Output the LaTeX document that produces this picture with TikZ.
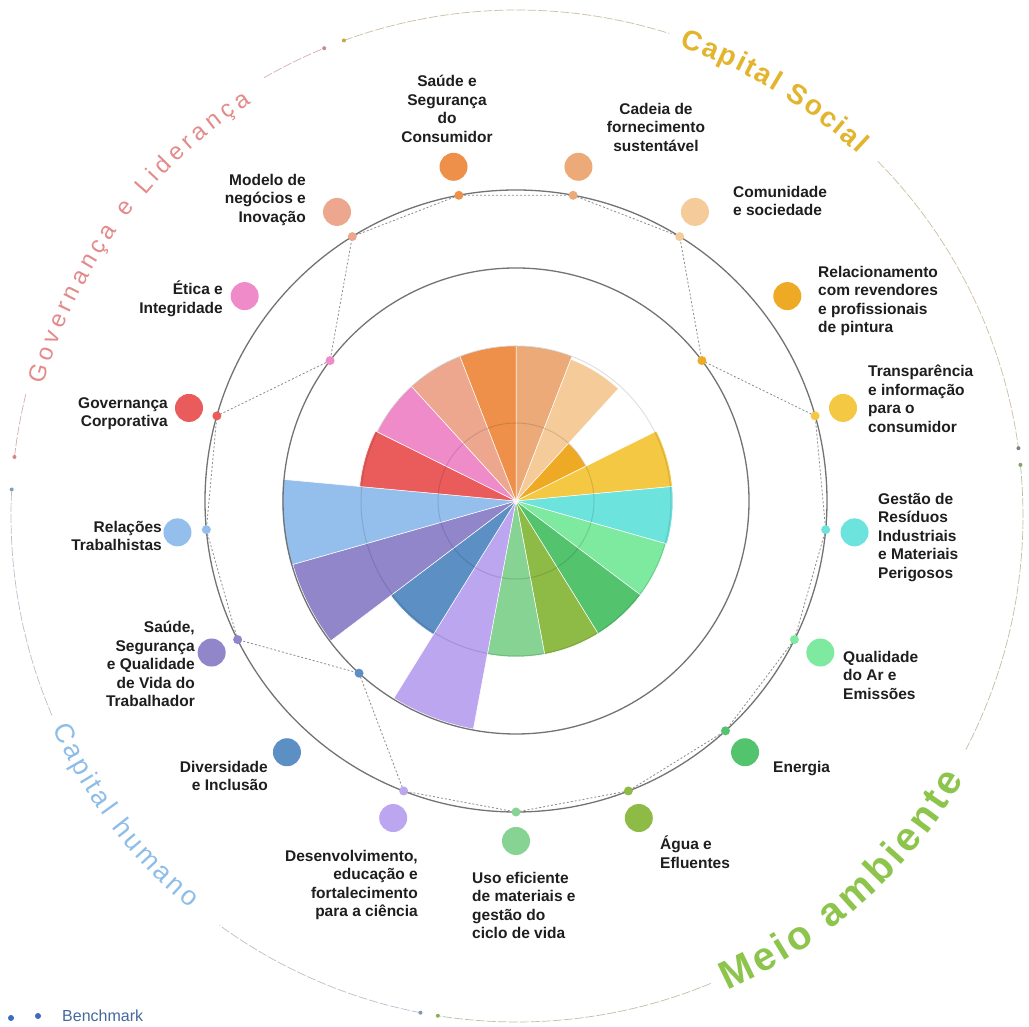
\documentclass[tikz,border=0pt]{standalone}
\usepackage{fontspec}
\setmainfont{Liberation Sans}
\usetikzlibrary{calc}
\definecolor{c0}{HTML}{EBAA78}
\definecolor{c1}{HTML}{F5CB9A}
\definecolor{c2}{HTML}{EEAA24}
\definecolor{c3}{HTML}{F5C843}
\definecolor{c4}{HTML}{6DE3DD}
\definecolor{c5}{HTML}{7DEA9F}
\definecolor{c6}{HTML}{53C36E}
\definecolor{c7}{HTML}{8EBB45}
\definecolor{c8}{HTML}{86D393}
\definecolor{c9}{HTML}{BBA6EF}
\definecolor{c10}{HTML}{5C8FC4}
\definecolor{c11}{HTML}{9086C9}
\definecolor{c12}{HTML}{94BFEC}
\definecolor{c13}{HTML}{EA5C5C}
\definecolor{c14}{HTML}{EE8BC8}
\definecolor{c15}{HTML}{EEA78F}
\definecolor{c16}{HTML}{EF904A}
\definecolor{govc}{HTML}{E48A8A}
\definecolor{socc}{HTML}{E3B52E}
\definecolor{meioc}{HTML}{8DC44B}
\definecolor{humc}{HTML}{8DBDE8}
\definecolor{legc}{HTML}{45699E}
\definecolor{legdot}{HTML}{3A6CC0}
\definecolor{txtc}{HTML}{1E1E1E}
% #1 centre, #2 baseline radius, #3 start angle, #4 direction, #5 font, #6 colour,
% #7 tracking, #8 font size, #9 list char/width(em)
\newcommand\curvetext[9]{%
  \xdef\ctang{#3}%
  \foreach \ctch/\ctwe in {#9}{%
    \pgfmathsetmacro\ctstep{(\ctwe*#8+#7)/#2*57.29578}%
    \pgfmathsetmacro\ctmid{\ctang+(#4)*\ctstep/2}%
    \pgfmathsetmacro\ctrot{\ctmid+(#4)*90}%
    \node[font={#5}, text=#6, anchor=base, inner sep=0pt, rotate=\ctrot] at ($(#1)+(\ctmid:#2)$) {\ctch};
    \pgfmathsetmacro\ctnew{\ctang+(#4)*\ctstep}%
    \xdef\ctang{\ctnew}%
  }%
}
\begin{document}
\begin{tikzpicture}[x=1pt,y=1pt,
  lbl/.style={font=\bfseries\fontsize{15.5}{18.5}\selectfont, text=txtc, inner sep=0pt},
  bigdot/.style={circle, minimum size=28pt, inner sep=0pt},
  smalldot/.style={circle, minimum size=9pt, inner sep=0pt},
  poly/.style={black!45, line width=0.8pt, dash pattern=on 2pt off 2pt},
  ring/.style={black!55, line width=1.3pt},
  grid/.style={black, opacity=0.12, line width=1pt},
  outerarc/.style={line width=0.7pt, dash pattern=on 9pt off 2pt},
  enddot/.style={circle, minimum size=4pt, inner sep=0pt}]
\useasboundingbox (0,0) rectangle (1029,1027);
\fill[white] (0,0) rectangle (1029,1027);
\coordinate (C) at (516,526);
\coordinate (O) at (517,511);

% wedges
\foreach \k/\col/\wr in {0/c0/155, 1/c1/152, 2/c2/78, 3/c3/157, 4/c4/157, 5/c5/156, 6/c6/156, 7/c7/156, 8/c8/156, 9/c9/232, 10/c10/157, 11/c11/232, 12/c12/234, 13/c13/157, 14/c14/155, 15/c15/155, 16/c16/155}{
  \pgfmathsetmacro\pa{90-\k*360/17}
  \pgfmathsetmacro\pb{90-(\k+1)*360/17}
  \fill[\col, draw=white, line width=0.5pt] (C) -- ($(C)+(\pa:\wr)$) arc[start angle=\pa, end angle=\pb, radius=\wr] -- cycle;
}
\draw[grid] (C) circle[radius=78];
\draw[grid] (C) circle[radius=155];
\draw[ring] (C) circle[radius=233];
\draw[ring] (C) circle[radius=311];

% dots on the rings
\foreach \k/\dr in {0/311, 1/311, 2/233, 3/311, 4/311, 5/311, 6/311, 7/311, 8/311, 9/311, 10/233, 11/311, 12/311, 13/311, 14/233, 15/311, 16/311}{
  \pgfmathsetmacro\ph{90-(\k+0.5)*360/17}
  \coordinate (d\k) at ($(C)+(\ph:\dr)$);
  \coordinate (m\k) at ($(C)+(\ph:340)$);
}
\draw[poly] (d0) -- (d1) -- (d2) -- (d3) -- (d4) -- (d5) -- (d6) -- (d7) -- (d8) -- (d9) -- (d10) -- (d11) -- (d12) -- (d13) -- (d14) -- (d15) -- (d16) -- cycle;
\foreach \k in {0,...,16}{
  \node[smalldot, fill=c\k] (s\k) at (d\k) {};
  \node[bigdot, fill=c\k] (b\k) at (m\k) {};
}

% labels
\node[lbl, anchor=north, align=center] (l16) at (447,952) {Saúde e\\Segurança\\do\\Consumidor};
\node[lbl, anchor=north, align=center] (l0) at (656,924) {Cadeia de\\fornecimento\\sustentável};
\node[lbl, anchor=north west, align=left] (l1) at (733,841) {Comunidade\\e sociedade};
\node[lbl, anchor=north west, align=left] (l2) at (818,761) {Relacionamento\\com revendores\\e profissionais\\de pintura};
\node[lbl, anchor=north west, align=left] (l3) at (868,662) {Transparência\\e informação\\para o\\consumidor};
\node[lbl, anchor=north west, align=left] (l4) at (878,534) {Gestão de\\Resíduos\\Industriais\\e Materiais\\Perigosos};
\node[lbl, anchor=north west, align=left] (l5) at (843,376) {Qualidade\\do Ar e\\Emissões};
\node[lbl, anchor=north west, align=left] (l6) at (773,266) {Energia};
\node[lbl, anchor=north west, align=left] (l7) at (660,191) {Água e\\Efluentes};
\node[lbl, anchor=north west, align=left] (l8) at (472,155) {Uso eficiente\\de materiais e\\gestão do\\ciclo de vida};
\node[lbl, anchor=north east, align=right] (l9) at (418,177) {Desenvolvimento,\\educação e\\fortalecimento\\para a ciência};
\node[lbl, anchor=north east, align=right] (l10) at (268,266) {Diversidade\\e Inclusão};
\node[lbl, anchor=north east, align=right] (l11) at (195,406) {Saúde,\\Segurança\\e Qualidade\\de Vida do\\Trabalhador};
\node[lbl, anchor=north east, align=right] (l12) at (162,506) {Relações\\Trabalhistas};
\node[lbl, anchor=north east, align=right] (l13) at (168,630) {Governança\\Corporativa};
\node[lbl, anchor=north east, align=right] (l14) at (223,746) {Ética e\\Integridade};
\node[lbl, anchor=north east, align=right] (l15) at (306,853) {Modelo de\\negócios e\\Inovação};

% outer category arcs
\draw[outerarc, govc!70!gray!70] ($(O)+(173.3:506)$) arc[start angle=173.3, end angle=166, radius=506];
\draw[outerarc, govc!70!gray!70] ($(O)+(120:506)$) arc[start angle=120, end angle=112.4, radius=506];
\draw[outerarc, socc!40!gray!60] ($(O)+(110:506)$) arc[start angle=110, end angle=72.5, radius=506];
\draw[outerarc, socc!40!gray!60] ($(O)+(44.5:506)$) arc[start angle=44.5, end angle=7.7, radius=506];
\draw[outerarc, meioc!40!gray!60] ($(O)+(5.8:506)$) arc[start angle=5.8, end angle=-27.5, radius=506];
\draw[outerarc, meioc!40!gray!60] ($(O)+(-67.5:506)$) arc[start angle=-67.5, end angle=-99, radius=506];
\draw[outerarc, humc!40!gray!60] ($(O)+(-101:506)$) arc[start angle=-101, end angle=-126, radius=506];
\draw[outerarc, humc!40!gray!60] ($(O)+(-156.8:506)$) arc[start angle=-156.8, end angle=-183, radius=506];
\node[enddot, fill=govc!80!gray] (e1) at ($(O)+(173.3:506)$) {};
\node[enddot, fill=govc!80!gray] (e2) at ($(O)+(112.4:506)$) {};
\node[enddot, fill=socc!70!gray] (e3) at ($(O)+(110:506)$) {};
\node[enddot, fill=gray] (e4) at ($(O)+(7.7:506)$) {};
\node[enddot, fill=meioc!50!gray] (e5) at ($(O)+(5.8:506)$) {};
\node[enddot, fill=meioc!70!gray] (e6) at ($(O)+(-99:506)$) {};
\node[enddot, fill=humc!40!gray] (e7) at ($(O)+(-101:506)$) {};
\node[enddot, fill=humc!50!gray] (e8) at ($(O)+(-183:506)$) {};

% category titles
\curvetext{O}{491}{164.7}{-1}{\fontsize{24}{24}\selectfont}{govc}{4.5}{24}{G/0.778, o/0.556, v/0.5, e/0.556, r/0.333, n/0.556, a/0.556, n/0.556, ç/0.5, a/0.556, ~/0.278, e/0.556, ~/0.278, L/0.556, i/0.222, d/0.556, e/0.556, r/0.333, a/0.556, n/0.556, ç/0.5, a/0.556}
\curvetext{O}{497}{71.0}{-1}{\bfseries\fontsize{28}{28}\selectfont}{socc}{2}{28}{C/0.722, a/0.556, p/0.611, i/0.278, t/0.333, a/0.556, l/0.278, ~/0.278, S/0.667, o/0.611, c/0.556, i/0.278, a/0.556, l/0.278}
\curvetext{O}{519}{-66.35}{1}{\bfseries\fontsize{40}{40}\selectfont}{meioc}{3.75}{40}{M/0.833, e/0.556, i/0.278, o/0.611, ~/0.278, a/0.556, m/0.889, b/0.611, i/0.278, e/0.556, n/0.611, t/0.333, e/0.556}
\curvetext{O}{511}{-155.6}{1}{\fontsize{27}{27}\selectfont}{humc}{3}{27}{C/0.722, a/0.556, p/0.556, i/0.222, t/0.278, a/0.556, l/0.222, ~/0.278, h/0.556, u/0.556, m/0.833, a/0.556, n/0.556, o/0.556}

% legend
\node[circle, fill=legdot, minimum size=6pt, inner sep=0pt] (g1) at (11,9) {};
\node[circle, fill=legdot, minimum size=6pt, inner sep=0pt] (g2) at (38,11) {};
\node[anchor=west, inner sep=0pt, font=\fontsize{16}{16}\selectfont, text=legc] (g3) at (62,11) {Benchmark};
\end{tikzpicture}
\end{document}
